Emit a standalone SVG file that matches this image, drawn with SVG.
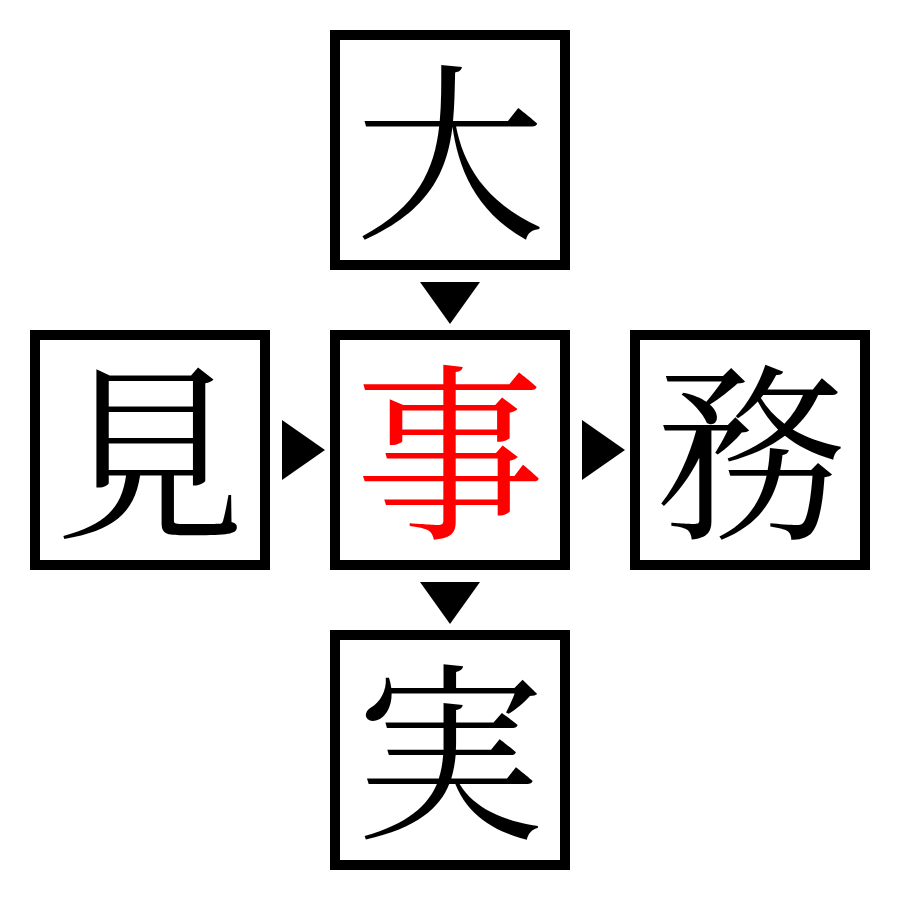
<svg xmlns="http://www.w3.org/2000/svg" width="900" height="900" viewBox="0 0 900 900">
<style>
.box{fill:#fff;stroke:#000;stroke-width:10}
.ch{font-family:"Noto Serif CJK JP","Noto Serif JP","Noto Sans CJK JP",serif;font-size:190px;text-anchor:middle;dominant-baseline:central;fill:#000}
.red{fill:#f00}
.arr{fill:#000}
</style>
<rect width="900" height="900" fill="#fff"/>
<g id="connectors">
<polygon class="arr" points="420,282 480,282 450,324"/>
<polygon class="arr" points="420,582 480,582 450,624"/>
<polygon class="arr" points="282,420 282,480 325,450"/>
<polygon class="arr" points="582,420 582,480 625,450"/>
</g>
<g id="n-top"><rect class="box" x="335" y="35" width="230" height="230"/><text class="ch" x="450" y="141">大</text></g>
<g id="n-left"><rect class="box" x="35" y="335" width="230" height="230"/><text class="ch" x="150" y="441">見</text></g>
<g id="n-center"><rect class="box" x="335" y="335" width="230" height="230"/><text class="ch red" x="450" y="441">事</text></g>
<g id="n-right"><rect class="box" x="635" y="335" width="230" height="230"/><text class="ch" x="750" y="441">務</text></g>
<g id="n-bottom"><rect class="box" x="335" y="635" width="230" height="230"/><text class="ch" x="450" y="741">実</text></g>
</svg>
